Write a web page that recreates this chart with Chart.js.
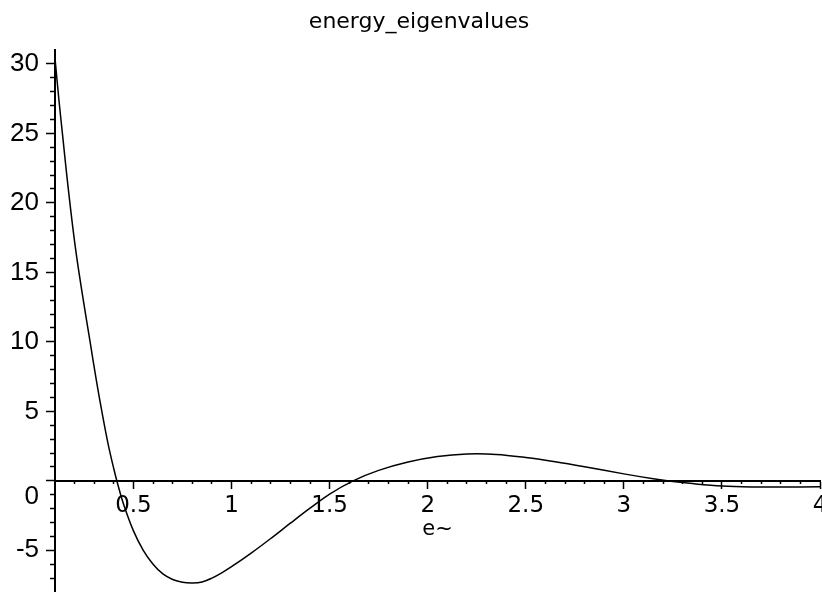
<!DOCTYPE html>
<html lang="en">
  <head>
    <meta charset="UTF-8" />
    <title>energy_eigenvalues</title>
    <style>
      body { margin: 0; background: #fff; }
      .container { width: 822px; height: 592px; }
    </style>
  </head>
  <body>
    <div class="container">
      <canvas id="myChart"></canvas>
    </div>
    <script src="https://cdn.jsdelivr.net/npm/chart.js@4.4.0/dist/chart.umd.min.js"></script>
    <script>
      // curve: e~ against energy_eigenvalues
      const eValues = [0.1, 0.12, 0.14, 0.16, 0.18, 0.2, 0.22, 0.25, 0.28, 0.31, 0.34, 0.37, 0.4, 0.42, 0.45, 0.5, 0.55, 0.6, 0.65, 0.7, 0.75, 0.8, 0.85, 0.9, 0.95, 1.0, 1.1, 1.2, 1.3, 1.4, 1.5, 1.62, 1.75, 1.9, 2.05, 2.2, 2.35, 2.5, 2.65, 2.8, 3.0, 3.15, 3.25, 3.35, 3.5, 3.65, 3.8, 4.0];
      const energy = [30.4, 27.4, 24.7, 22.0, 19.5, 17.2, 15.2, 12.5, 9.9, 7.3, 4.9, 2.7, 0.85, -0.25, -1.7, -3.6, -5.0, -6.0, -6.7, -7.1, -7.3, -7.35, -7.28, -7.0, -6.62, -6.18, -5.2, -4.15, -3.05, -1.97, -0.95, 0, 0.75, 1.35, 1.75, 1.93, 1.9, 1.68, 1.38, 1.02, 0.5, 0.15, -0.05, -0.2, -0.37, -0.44, -0.45, -0.42];

      const xTickValues = [0.5, 1, 1.5, 2, 2.5, 3, 3.5, 4];
      const yTickValues = [-5, 0, 5, 10, 15, 20, 25, 30];
      const xRange = [0.1, 4];
      const yRange = [-8, 31];

      // minor tick marks, every 0.1 on x and every 1 on y
      const xMinor = [];
      for (let i = 2; i < 40; i++) if (i % 5 !== 0) xMinor.push(i / 10);
      const yMinor = [];
      for (let i = -7; i <= 30; i++) if (i % 5 !== 0) yMinor.push(i);

      Chart.defaults.font.family = "DejaVu Sans";
      Chart.defaults.color = "#000";

      const noPad = (scale) => {
        scale.paddingLeft = 0;
        scale.paddingRight = 0;
        scale.paddingTop = 0;
        scale.paddingBottom = 0;
      };

      // the left padding only nudges the title; let the y labels use that strip
      const widenYLabels = {
        id: "widenYLabels",
        afterLayout(chart) {
          chart.scales.y.left = 0;
        },
      };

      const ctx = document.getElementById("myChart").getContext("2d");
      const myChart = new Chart(ctx, {
        type: "line",
        data: {
          datasets: [
            {
              label: "energy_eigenvalues",
              data: eValues.map((e, i) => ({ x: e, y: energy[i] })),
              borderColor: "#000",
              borderWidth: 1.5,
              pointRadius: 0,
              tension: 0.35,
            },
          ],
        },
        plugins: [widenYLabels],
        options: {
          responsive: true,
          maintainAspectRatio: false,
          animation: false,
          layout: { padding: { left: 18, right: 2, top: 0, bottom: 0 } },
          plugins: {
            legend: { display: false },
            tooltip: { enabled: false },
            title: {
              display: true,
              text: "energy_eigenvalues",
              color: "#000",
              font: { size: 22, weight: "normal" },
              padding: { top: 9, bottom: 14.6 },
            },
          },
          scales: {
            x: {
              type: "linear",
              position: { y: 0 },
              min: xRange[0],
              max: xRange[1],
              afterBuildTicks: (scale) => {
                scale.ticks = xTickValues.map((v) => ({ value: v }));
              },
              afterFit: noPad,
              ticks: {
                autoSkip: false,
                maxRotation: 0,
                padding: 4,
                font: { size: 23 },
                callback: (v) => String(v),
              },
              grid: { drawOnChartArea: false, tickLength: 7, tickWidth: 1.5, color: "#000" },
              border: { display: true, color: "#000", width: 2 },
              title: { display: true, text: "e~", font: { size: 21 }, padding: { top: -6, bottom: 0 } },
            },
            xMinor: {
              type: "linear",
              axis: "x",
              position: { y: 0 },
              min: xRange[0],
              max: xRange[1],
              afterBuildTicks: (scale) => {
                scale.ticks = xMinor.map((v) => ({ value: v }));
              },
              afterFit: noPad,
              ticks: { display: false },
              grid: { drawOnChartArea: false, tickLength: 3, tickWidth: 1.5, color: "#000" },
              border: { display: false },
            },
            y: {
              type: "linear",
              position: "left",
              min: yRange[0],
              max: yRange[1],
              afterBuildTicks: (scale) => {
                scale.ticks = yTickValues.map((v) => ({ value: v }));
              },
              afterFit: (scale) => {
                noPad(scale);
                scale.width = 37;
              },
              ticks: {
                padding: 7,
                font: { family: "Liberation Sans", size: 26 },
                callback: (v) => (v === 0 ? ["", "0"] : String(v)),
              },
              grid: { drawOnChartArea: false, tickLength: 9, tickWidth: 1.5, color: "#000" },
              border: { display: true, color: "#000", width: 2 },
            },
            yMinor: {
              type: "linear",
              axis: "y",
              position: { x: xRange[0] },
              min: yRange[0],
              max: yRange[1],
              afterBuildTicks: (scale) => {
                scale.ticks = yMinor.map((v) => ({ value: v }));
              },
              afterFit: noPad,
              ticks: { display: false },
              grid: { drawOnChartArea: false, tickLength: 5, tickWidth: 1.5, color: "#000" },
              border: { display: false },
            },
          },
        },
      });
    </script>
  </body>
</html>
